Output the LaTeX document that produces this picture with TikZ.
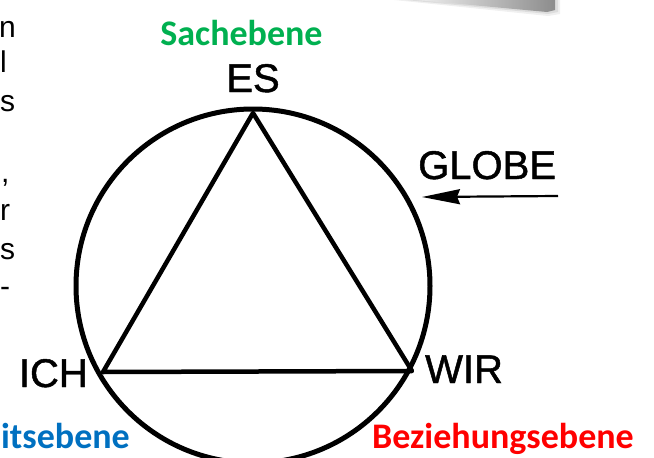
\documentclass[tikz,border=0pt]{standalone}
\usepackage{fontspec}
\setmainfont{Liberation Sans}
\newfontfamily\scanfont[FakeBold=1.2]{Liberation Sans}
\newfontfamily\calibri{Carlito}
\usetikzlibrary{arrows.meta}
\definecolor{sachgreen}{HTML}{00B050}
\definecolor{ichblue}{HTML}{0070C0}
\definecolor{bezred}{HTML}{FF0000}
\begin{document}
\begin{tikzpicture}[x=1pt,y=-1pt,
  lbl/.style={font=\scanfont\fontsize{40}{48}\selectfont, inner sep=0pt},
  lvl/.style={font=\calibri\bfseries\fontsize{36}{43}\selectfont, inner sep=0pt},
  frag/.style={font=\fontsize{30}{36}\selectfont, inner sep=0pt, anchor=base west},
  edgeline/.style={line width=4.5pt, line join=round, line cap=round}]
\useasboundingbox (0,0) rectangle (654,458);
\clip (0,0) rectangle (654,458);
% shadow of a slide element at top right
\fill[black, opacity=0.06] (375,-2) -- (560,-2) -- (560,14) -- (548,16) -- cycle;
\fill[black, opacity=0.08] (385,-2) -- (558,-2) -- (558,12) -- (548,14) -- cycle;
\path[left color=white, right color=black!45] (395,-2) -- (555,-2) -- (555,10) -- (547,12) -- cycle;
% text fragments at left edge
\node[frag] (f1) at (-1,37) {n};
\node[frag] (f2) at (0,72) {l};
\node[frag] (f3) at (0,111) {s};
\node[frag] (f4) at (1,182) {,};
\node[frag] (f5) at (0,220) {r};
\node[frag] (f6) at (0,259) {s};
\node[frag] (f7) at (0,296) {-};
% circle
\node[draw, circle, line width=5pt, minimum size=354pt, inner sep=0pt] (globe) at (253,286) {};
% triangle
\coordinate (es) at (253,113);
\coordinate (ich) at (103,372);
\coordinate (wir) at (412,371);
\draw[edgeline] (es) -- (ich) -- (wir) -- cycle;
% labels
\node[lbl, anchor=base] (esl) at (253,92) {ES};
\node[lbl, anchor=base east] (ichl) at (88,387) {ICH};
\node[lbl, anchor=base west] (wirl) at (425,383) {WIR};
\node[lbl, anchor=base west] (globel) at (418,179) {GLOBE};
\coordinate (gtail) at (558,196);
\coordinate (gtip) at (422,197);
\draw[line width=2.2pt, -{Stealth[length=38pt,width=15pt,inset=3pt]}] (gtail) -- (gtip);
% levels
\node[lvl, text=sachgreen, anchor=base] (sach) at (241.5,45.5) {Sachebene};
\node[lvl, text=ichblue, anchor=base east] (ichebene) at (130,448) {itsebene};
\node[lvl, text=bezred, anchor=base west] (bez) at (372,448) {Beziehungsebene};
\end{tikzpicture}
\end{document}
